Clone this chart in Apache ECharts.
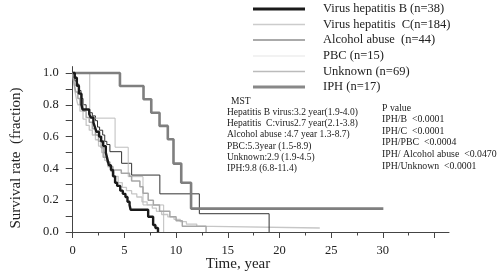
<!DOCTYPE html>
<html>
<head>
<meta charset="utf-8">
<script src="https://cdn.jsdelivr.net/npm/echarts@6/dist/echarts.min.js"></script>
<style>
html,body{margin:0;padding:0;background:#fff}
#main{width:500px;height:279px}
</style>
</head>
<body>
<div id="main"></div>
<script>
// Kaplan-Meier curves: [time (years), survival fraction]
var hepB = [[0,1],[0.2,0.97],[0.4,0.92],[0.6,0.87],[0.85,0.8],[0.95,0.77],[1.6,0.74],[1.75,0.72],[2.0,0.69],[2.15,0.66],[2.3,0.63],[2.55,0.6],[2.75,0.57],[2.95,0.54],[3.2,0.5],[3.35,0.46],[3.5,0.42],[3.7,0.39],[3.9,0.35],[4.1,0.31],[4.3,0.29],[4.6,0.26],[4.85,0.24],[5.1,0.22],[5.3,0.19],[5.5,0.17],[5.6,0.14],[7.3,0.096],[7.78,0.044],[8.0,0.025],[8.25,0]];
var hepC = [[0,1],[0.1,0.94],[0.2,0.89],[0.35,0.84],[0.5,0.8],[0.7,0.76],[1.0,0.71],[1.3,0.67],[1.6,0.64],[1.9,0.61],[2.2,0.58],[2.5,0.54],[2.8,0.5],[3.1,0.45],[3.4,0.41],[3.7,0.38],[4.0,0.35],[4.4,0.31],[4.8,0.28],[5.2,0.26],[5.7,0.24],[6.2,0.22],[6.7,0.19],[7.2,0.17],[7.7,0.15],[8.1,0.13],[8.6,0.11],[9.2,0.095],[9.8,0.08],[10.4,0.065],[11.0,0.05],[12.0,0.035],[13.5,0.025],[23.9,0.025]];
var alcohol = [[0,1],[0.2,0.95],[0.4,0.93],[0.6,0.89],[0.8,0.84],[1.0,0.8],[1.3,0.77],[1.6,0.75],[1.9,0.73],[2.2,0.7],[2.4,0.66],[2.6,0.64],[2.9,0.61],[3.1,0.57],[3.3,0.55],[3.6,0.505],[4.73,0.432],[5.7,0.358],[8.43,0.24],[12.25,0.115],[19.0,0]];
var pbc = [[0,1],[1.65,0.716],[4.1,0.533],[5.37,0.348],[6.8,0.17],[8.8,0]];
var unknown = [[0,1],[0.15,0.93],[0.3,0.88],[0.5,0.84],[0.7,0.8],[1.0,0.76],[1.3,0.72],[1.6,0.69],[1.9,0.65],[2.2,0.61],[2.5,0.57],[2.75,0.53],[2.95,0.47],[3.3,0.44],[3.6,0.41],[3.9,0.39],[4.7,0.37],[5.5,0.35],[5.7,0.32],[6.5,0.285],[6.8,0.243],[7.3,0.2],[7.8,0.17],[8.4,0.13],[9.4,0.096],[10.0,0.07],[10.6,0.036],[12.9,0]];
var iph = [[0,1],[4.57,0.918],[6.85,0.835],[7.6,0.75],[8.4,0.667],[9.2,0.583],[9.75,0.43],[10.5,0.31],[11.45,0.147],[30.05,0.147]];

var groupNames = ["Virus hepatitis B (n=38)","Virus hepatitis  C(n=184)","Alcohol abuse  (n=44)","PBC (n=15)","Unknown (n=69)","IPH (n=17)"];

var xLabelTicks = [0,5,10,15,20,25,30];
var xMajorTicks = [0,5,10,15,20,25,30,35];
var xMinorTicks = [0,2.5,5,7.5,10,12.5,15,17.5,20,22.5,25,27.5,30,32.5,35];
var yLabelTicks = [0,0.2,0.4,0.6,0.8,1.0];
var yTicks = [0,0.1,0.2,0.3,0.4,0.5,0.6,0.7,0.8,0.9,1.0];

var mstLines = ["MST","Hepatitis B virus:3.2 year(1.9-4.0)","Hepatitis  C:virus2.7 year(2.1-3.8)","Alcohol abuse :4.7 year 1.3-8.7)","PBC:5.3year (1.5-8.9)","Unknown:2.9 (1.9-4.5)","IPH:9.8 (6.8-11.4)"];
var pLines = ["P value","IPH/B  <0.0001","IPH/C  <0.0001","IPH/PBC  <0.0004","IPH/ Alcohol abuse  <0.0470","IPH/Unknown  <0.0001"];

var serif = '"Liberation Serif","DejaVu Serif",serif';

var chart = echarts.init(document.getElementById("main"));

// plot styles and legend icon styles
var plotStyle = [
    {color:"#1a1a1a",width:2.4},
    {color:"#c6c6c6",width:1.3},
    {color:"#333333",width:1},
    {color:"#bdbdbd",width:1},
    {color:"#a6a6a6",width:1.5},
    {color:"#7f7f7f",width:2.6}
];
var legendStyle = [
    {color:"#1a1a1a",width:3},
    {color:"#cccccc",width:1.5},
    {color:"#aaaaaa",width:2},
    {color:"#e6e6e6",width:1},
    {color:"#bbbbbb",width:1.5},
    {color:"#888888",width:3}
];
var curves = [hepB,hepC,alcohol,pbc,unknown,iph];

var series = [];
for (var i = 0; i < curves.length; i++) {
    series.push({
        name: groupNames[i],
        type: "line",
        step: "end",
        symbol: "none",
        xAxisIndex: 0,
        yAxisIndex: 0,
        lineStyle: {color: plotStyle[i].color, width: plotStyle[i].width},
        itemStyle: {color: plotStyle[i].color},
        z: i == 0 ? 5 : 3,
        data: curves[i]
    });
}

var graphics = [];
for (var m = 0; m < mstLines.length; m++) {
    graphics.push({
        type: "text",
        x: m == 0 ? 231 : 227,
        y: 101 + m * 11.3,
        style: {text: mstLines[m], font: "9.5px " + serif, fill: "#222", verticalAlign: "middle"}
    });
}
for (var p = 0; p < pLines.length; p++) {
    graphics.push({
        type: "text",
        x: 382,
        y: 108 + p * 11.6,
        style: {text: pLines[p], font: "9.8px " + serif, fill: "#222", verticalAlign: "middle"}
    });
}
// axis titles
graphics.push({
    type: "text",
    x: 16, y: 158,
    rotation: Math.PI / 2,
    style: {text: "Survival rate  (fraction)", font: "15px " + serif, fill: "#222", align: "center", verticalAlign: "middle"}
});
graphics.push({
    type: "text",
    x: 238, y: 264,
    style: {text: "Time, year", font: "15px " + serif, fill: "#222", align: "center", verticalAlign: "middle"}
});

// one legend per group so each icon bar can have its own thickness
var legendCenters = [9, 24.5, 40, 56, 71.5, 87];
var legends = [];
for (var k = 0; k < groupNames.length; k++) {
    legends.push({
        orient: "vertical",
        left: 253,
        top: legendCenters[k] - 7,
        padding: 0,
        itemWidth: 52,
        itemHeight: legendStyle[k].width,
        selectedMode: false,
        textStyle: {fontFamily: serif, fontSize: 12.5, color: "#222", padding: [0,0,0,13], lineHeight: 14},
        data: [{name: groupNames[k], icon: "rect", itemStyle: {color: legendStyle[k].color, borderWidth: 0}}]
    });
}

option = {
    animation: false,
    backgroundColor: "#fff",
    grid: {left: 72.7, right: 51, top: 66.6, bottom: 47},
    legend: legends,
    xAxis: [{
        type: "value",
        min: 0,
        max: 36.4,
        splitLine: {show: false},
        axisLine: {lineStyle: {color: "#444", width: 1}},
        axisTick: {customValues: xMinorTicks, length: 3.5, lineStyle: {color: "#444"}},
        axisLabel: {customValues: xLabelTicks, fontFamily: serif, fontSize: 12.5, color: "#222", margin: 12}
    }, {
        type: "value",
        min: 0,
        max: 36.4,
        position: "bottom",
        splitLine: {show: false},
        axisLine: {show: false},
        axisTick: {customValues: xMajorTicks, length: 6, lineStyle: {color: "#444"}},
        axisLabel: {show: false}
    }],
    yAxis: {
        type: "value",
        min: 0,
        max: 1.04,
        splitLine: {show: false},
        axisLine: {show: true, lineStyle: {color: "#444", width: 1}},
        axisTick: {show: true, customValues: yTicks, length: 7, lineStyle: {color: "#444"}},
        axisLabel: {
            customValues: yLabelTicks,
            fontFamily: serif, fontSize: 12.5, color: "#222", margin: 14,
            formatter: function (v) { return v.toFixed(1); }
        }
    },
    graphic: graphics,
    series: series
};
chart.setOption(option);
</script>
</body>
</html>
